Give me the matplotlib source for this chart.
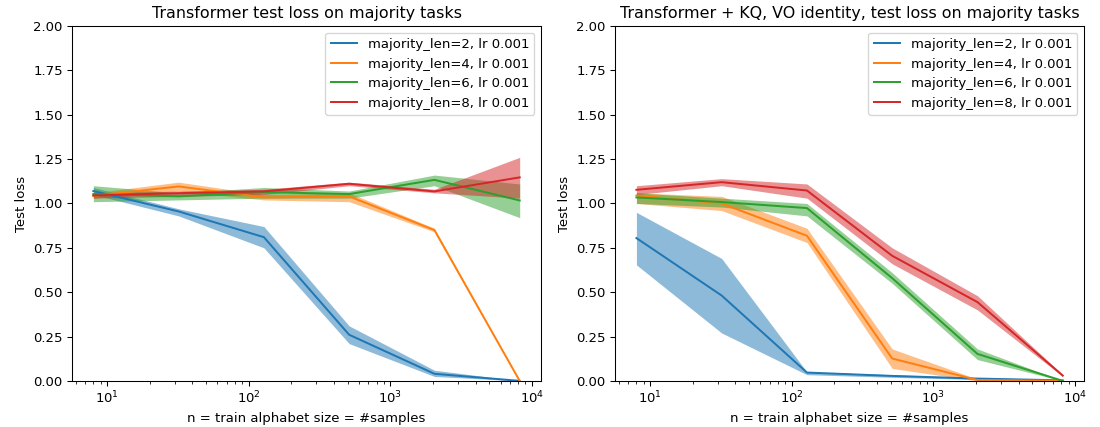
import matplotlib
matplotlib.use("Agg")
import matplotlib.pyplot as plt
import numpy as np

# train alphabet sizes
n = [8, 32, 128, 512, 2048, 8192]
lens = [2, 4, 6, 8]

# left panel: plain transformer (mean, lower, upper)
left_mean = {
    2: [1.07, 0.955, 0.81, 0.26, 0.04, 0.0],
    4: [1.043, 1.096, 1.034, 1.04, 0.85, 0.0],
    6: [1.053, 1.04, 1.064, 1.053, 1.133, 1.017],
    8: [1.045, 1.058, 1.068, 1.111, 1.068, 1.147],
}
left_lo = {
    2: [1.05, 0.93, 0.75, 0.21, 0.025, 0.0],
    4: [1.03, 1.07, 1.02, 1.01, 0.84, 0.0],
    6: [1.01, 1.02, 1.03, 1.03, 1.10, 0.92],
    8: [1.03, 1.04, 1.05, 1.10, 1.06, 1.03],
}
left_hi = {
    2: [1.09, 0.97, 0.87, 0.31, 0.06, 0.0],
    4: [1.06, 1.12, 1.05, 1.06, 0.86, 0.0],
    6: [1.10, 1.06, 1.09, 1.07, 1.16, 1.11],
    8: [1.06, 1.07, 1.08, 1.12, 1.08, 1.26],
}

# right panel: transformer + KQ, VO identity
right_mean = {
    2: [0.805, 0.481, 0.047, 0.028, 0.013, 0.003],
    4: [1.045, 1.0, 0.818, 0.126, 0.005, 0.0],
    6: [1.034, 1.008, 0.974, 0.579, 0.152, 0.0],
    8: [1.077, 1.12, 1.073, 0.705, 0.444, 0.03],
}
right_lo = {
    2: [0.654, 0.27, 0.035, 0.02, 0.008, 0.0],
    4: [1.00, 0.96, 0.78, 0.07, 0.0, 0.0],
    6: [1.00, 0.98, 0.93, 0.55, 0.12, 0.0],
    8: [1.05, 1.10, 1.03, 0.66, 0.40, 0.025],
}
right_hi = {
    2: [0.95, 0.69, 0.05, 0.035, 0.018, 0.006],
    4: [1.06, 1.04, 0.86, 0.18, 0.01, 0.0],
    6: [1.06, 1.03, 1.00, 0.61, 0.18, 0.0],
    8: [1.10, 1.14, 1.11, 0.75, 0.48, 0.035],
}

titles = ["Transformer test loss on majority tasks",
          "Transformer + KQ, VO identity, test loss on majority tasks"]

dpi = 95
fig, axes = plt.subplots(1, 2, figsize=(1100 / dpi, 427 / dpi), dpi=dpi)
panels = [(left_mean, left_lo, left_hi), (right_mean, right_lo, right_hi)]
for ax, (mean, lo, hi), title in zip(axes, panels, titles):
    for k in lens:
        line, = ax.plot(n, mean[k], label=f"majority_len={k}, lr 0.001")
        ax.fill_between(n, lo[k], hi[k], color=line.get_color(), alpha=0.5, linewidth=0)
    ax.set_xscale("log")
    ax.set_ylim(0, 2)
    ax.set_title(title)
    ax.set_xlabel("n = train alphabet size = #samples")
    ax.set_ylabel("Test loss")
    ax.legend(loc="upper right")

plt.subplots_adjust(left=0.0655, right=0.9855, top=0.939, bottom=0.108, wspace=0.158)
plt.savefig("out.png", dpi=dpi)
